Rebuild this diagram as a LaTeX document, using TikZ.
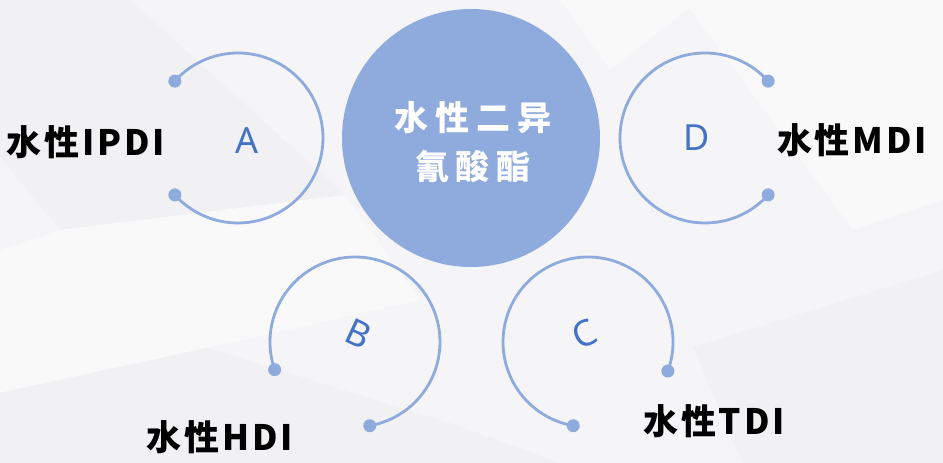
\documentclass[tikz,border=0pt]{standalone}
\usepackage{fontspec}
\newfontfamily\cjktag{Noto Sans CJK SC}[LetterSpace=8]
\newfontfamily\cjktitle{Noto Sans CJK SC}[LetterSpace=20]
\newfontfamily\letterfont{Noto Sans}

\definecolor{ringblue}{HTML}{8FAADC}
\definecolor{letterblue}{HTML}{4472C4}
\definecolor{bgbase}{HTML}{F5F5F7}
\definecolor{bgdark}{HTML}{F1F1F3}
\definecolor{bglight}{HTML}{F9F9FA}

\begin{document}
\begin{tikzpicture}[x=1pt, y=1pt,
    ring/.style={draw=ringblue, line width=2.8pt},
    enddot/.style={fill=ringblue},
    letter/.style={text=letterblue, font=\letterfont\fontsize{36}{36}\selectfont, inner sep=0pt},
    tag/.style={text=black, font=\cjktag\bfseries\fontsize{35}{35}\selectfont, inner sep=0pt},
    core/.style={circle, fill=ringblue, minimum size=258pt, inner sep=0pt},
    coretext/.style={align=center, text=white, inner sep=0pt,
      font=\cjktitle\bfseries\fontsize{34}{49}\selectfont}]

  \useasboundingbox (0,0) rectangle (943,463);

  % Faint low-poly background
  \fill[bgbase] (0,0) rectangle (943,463);
  \begin{scope}[shift={(0,463)}, yscale=-1] % pixel coordinates from the top
    \fill[bgdark] (0,0) -- (130,0) -- (345,195) -- (60,230) -- (0,157) -- cycle;
    \fill[bglight] (60,230) -- (345,195) -- (420,300) -- (207,348) -- (0,393) -- (0,250) -- cycle;
    \fill[bgdark] (0,393) -- (207,348) -- (450,423) -- (560,463) -- (0,463) -- cycle;
    \fill[bgdark] (693,347) -- (943,270) -- (943,463) -- (743,463) -- cycle;
    \fill[bglight] (560,0) -- (700,0) -- (610,70) -- cycle;
    \fill[bglight] (683,0) -- (943,0) -- (943,200) -- (853,230) -- cycle;
  \end{scope}

  % Central circle
  \node[core] (core) at (471,325) {};
  \node[coretext] (title) at (473,321) {水性二异\\氰酸酯};

  % Open rings with a dot at each end
  \foreach \name/\cx/\cy/\sa/\ea/\rot/\dx/\dy in
      {A/238/325/138/-138/0/9/-3, B/355/121/199/-80/-25/4/8,
       C/588/121/-20/260/25/-4/8, D/705/325/42/318/0/-8/0}{
    \coordinate (c\name) at (\cx,\cy);
    \draw[ring] (c\name) ++(\sa:85) coordinate (s\name)
      arc[start angle=\sa, end angle=\ea, radius=85] coordinate (e\name);
    \fill[enddot] (s\name) circle[radius=6.5];
    \fill[enddot] (e\name) circle[radius=6.5];
    \node[letter, rotate=\rot] (l\name) at ([shift={(\dx,\dy)}]c\name) {\name};
  }

  % Labels
  \node[tag] (ipdi) at (86,321) {水性IPDI};
  \node[tag] (mdi) at (852,323) {水性MDI};
  \node[tag] (hdi) at (220,26) {水性HDI};
  \node[tag] (tdi) at (714,42) {水性TDI};
\end{tikzpicture}
\end{document}
